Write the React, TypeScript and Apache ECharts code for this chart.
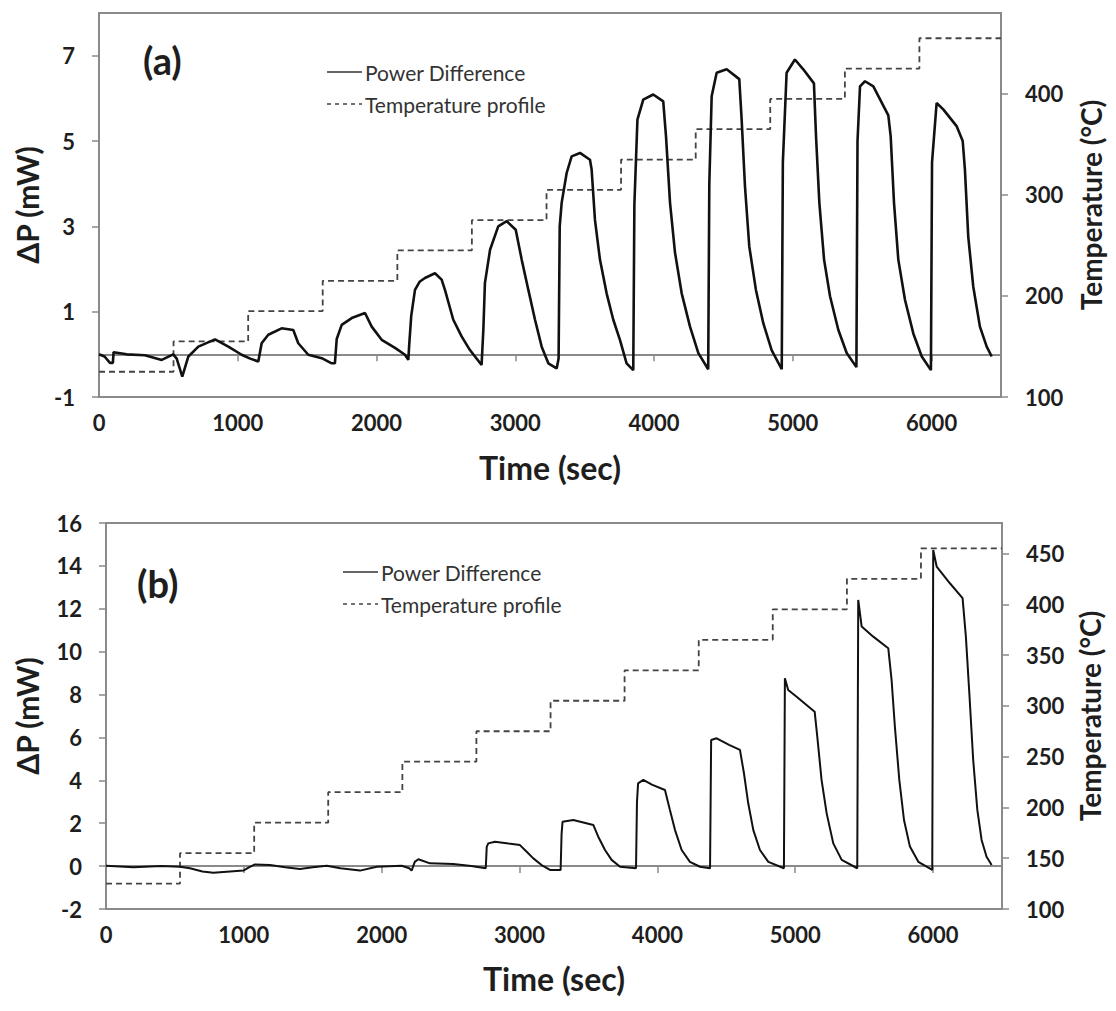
import React, { useEffect, useRef } from "react";
import * as echarts from "echarts";

// ---------- Data ----------
// Temperature profile (same schedule in both panels): step start times (s) and levels (°C)
const tempStepTimes = [0, 537, 1075, 1612, 2150, 2687, 3225, 3762, 4300, 4837, 5375, 5912];
const tempLevels = [125, 155, 185, 215, 245, 275, 305, 335, 365, 395, 425, 455];
const tempEndTime = 6500;

// Panel (a): power difference, [time (s), ΔP (mW)]
const powerCurveA: [number, number][] = [
  [0, 0.0], [40, -0.05], [79, -0.2], [100, -0.2], [105, 0.05], [200, 0.0], [331, -0.02], [452, -0.13],
  [535, 0.0], [560, -0.1], [600, -0.52], [644, -0.05], [716, 0.18], [836, 0.35], [932, 0.18], [1028, -0.01],
  [1090, -0.1], [1148, -0.17], [1172, 0.26], [1220, 0.46], [1316, 0.61], [1400, 0.57], [1436, 0.26],
  [1508, -0.01], [1605, -0.09], [1677, -0.21], [1700, -0.21], [1713, 0.36], [1749, 0.69], [1821, 0.85],
  [1917, 0.97], [1965, 0.65], [2037, 0.34], [2133, 0.15], [2205, -0.01], [2229, -0.13], [2235, 0.2],
  [2250, 0.9], [2277, 1.51], [2310, 1.7], [2349, 1.79], [2421, 1.9], [2469, 1.75], [2493, 1.51],
  [2553, 0.81], [2613, 0.42], [2673, 0.1], [2757, -0.25], [2770, 0.6], [2781, 1.67], [2818, 2.45],
  [2877, 3.0], [2938, 3.12], [3003, 2.92], [3046, 2.22], [3094, 1.51], [3142, 0.81], [3190, 0.18],
  [3238, -0.21], [3298, -0.33], [3312, -0.1], [3320, 3.0], [3334, 3.55], [3370, 4.25], [3406, 4.64],
  [3466, 4.72], [3538, 4.56], [3550, 4.33], [3574, 3.15], [3610, 2.22], [3658, 1.43], [3706, 0.81],
  [3754, 0.34], [3802, -0.21], [3850, -0.37], [3858, 3.5], [3880, 5.5], [3922, 5.97], [3994, 6.09],
  [4066, 5.93], [4086, 5.11], [4115, 3.55], [4151, 2.38], [4199, 1.43], [4259, 0.65], [4319, 0.03],
  [4390, -0.35], [4398, 4.0], [4415, 6.05], [4451, 6.6], [4523, 6.68], [4614, 6.45], [4631, 5.5],
  [4655, 3.94], [4686, 2.53], [4734, 1.51], [4787, 0.73], [4847, 0.1], [4920, -0.35], [4928, 4.5],
  [4955, 6.6], [5015, 6.91], [5075, 6.68], [5152, 6.35], [5167, 5.11], [5191, 3.55], [5225, 2.22],
  [5268, 1.36], [5328, 0.57], [5388, 0.03], [5458, -0.3], [5466, 5.0], [5484, 6.28], [5520, 6.4],
  [5580, 6.28], [5688, 5.6], [5705, 5.11], [5729, 3.55], [5760, 2.22], [5808, 1.28], [5868, 0.49],
  [5929, -0.05], [5995, -0.37], [6003, 4.5], [6036, 5.89], [6084, 5.74], [6180, 5.35], [6224, 5.0],
  [6240, 4.33], [6264, 2.76], [6300, 1.59], [6348, 0.65], [6397, 0.18], [6433, -0.05],
];

// Panel (b): power difference, [time (s), ΔP (mW)]
const powerCurveB: [number, number][] = [
  [0, 0.02], [200, -0.05], [400, 0.0], [537, -0.03], [609, -0.1], [700, -0.25], [778, -0.31], [900, -0.25],
  [996, -0.21], [1040, -0.05], [1081, 0.08], [1190, 0.05], [1300, -0.05], [1407, -0.13], [1500, -0.05],
  [1601, 0.02], [1700, -0.1], [1843, -0.21], [1964, -0.03], [2145, 0.02], [2200, -0.1], [2217, -0.21],
  [2240, 0.2], [2266, 0.32], [2350, 0.13], [2519, 0.1], [2650, 0.0], [2755, -0.1], [2762, 0.9],
  [2773, 1.06], [2822, 1.14], [2920, 1.05], [3003, 0.98], [3052, 0.67], [3100, 0.36], [3160, 0.05],
  [3221, -0.18], [3298, -0.18], [3305, 1.5], [3312, 2.07], [3390, 2.15], [3535, 1.92], [3571, 1.37],
  [3620, 0.75], [3668, 0.29], [3729, -0.03], [3845, -0.1], [3852, 3.0], [3860, 3.86], [3898, 4.02],
  [3960, 3.8], [4055, 3.55], [4091, 2.62], [4128, 1.68], [4176, 0.75], [4236, 0.2], [4309, -0.03],
  [4382, -0.1], [4390, 5.88], [4430, 5.96], [4520, 5.65], [4599, 5.42], [4628, 4.33], [4659, 2.93],
  [4696, 1.68], [4744, 0.75], [4805, 0.2], [4918, -0.1], [4925, 8.76], [4949, 8.21], [5010, 7.9],
  [5141, 7.2], [5160, 6.04], [5191, 4.02], [5228, 2.46], [5276, 1.06], [5337, 0.29], [5450, -0.1],
  [5457, 12.41], [5482, 11.17], [5566, 10.7], [5675, 10.16], [5699, 8.68], [5723, 6.5], [5755, 4.02],
  [5789, 2.15], [5832, 0.91], [5893, 0.2], [5994, -0.18], [6001, 14.74], [6026, 13.97], [6122, 13.19],
  [6214, 12.5], [6238, 10.7], [6263, 8.06], [6291, 4.95], [6321, 2.62], [6352, 1.22], [6388, 0.44],
  [6425, 0.05],
];

// Tick values
const xTicks = [0, 1000, 2000, 3000, 4000, 5000, 6000];
const leftTicksA = [-1, 1, 3, 5, 7];
const rightTicksA = [100, 200, 300, 400];
const leftTicksB = [-2, 0, 2, 4, 6, 8, 10, 12, 14, 16];
const rightTicksB = [100, 150, 200, 250, 300, 350, 400, 450];

const seriesNames = ["Power Difference", "Temperature profile"];

// ---------- Helpers ----------
const tempData = () => {
  const d = tempStepTimes.map((t, i) => [t, tempLevels[i]]);
  d.push([tempEndTime, tempLevels[tempLevels.length - 1]]);
  return d;
};

const FONT = "Lato";
const TEXT = "#1e1e1e";
const FRAME = "#8a8a8a";

const labelStyle = { fontFamily: FONT, fontWeight: "bold" as const, fontSize: 22, color: TEXT };
const nameStyle = { fontFamily: FONT, fontWeight: "bold" as const, fontSize: 30, color: TEXT };

function xAxis(gridIndex: number, nameGap: number) {
  return {
    type: "value",
    gridIndex,
    min: 0,
    max: 6500,
    name: "Time (sec)",
    nameLocation: "middle",
    nameGap,
    nameTextStyle: { ...nameStyle, fontSize: 32, verticalAlign: "top" },
    axisLine: { show: true, lineStyle: { color: FRAME, width: 2 } },
    axisTick: { show: true, length: 7, lineStyle: { color: FRAME, width: 1.5 }, customValues: xTicks },
    axisLabel: { ...labelStyle, margin: 14, customValues: xTicks, formatter: (v: number) => String(v) },
    splitLine: { show: false },
  };
}

function yAxis(
  gridIndex: number,
  position: "left" | "right",
  min: number,
  max: number,
  ticks: number[],
  name: string,
  nameGap: number,
  nameSize: number,
) {
  return {
    type: "value",
    gridIndex,
    position,
    min,
    max,
    name,
    nameLocation: "middle",
    nameGap,
    nameRotate: 90,
    nameTextStyle: { ...nameStyle, fontSize: nameSize },
    axisLine: { show: true, lineStyle: { color: FRAME, width: 2 } },
    axisTick: { show: true, length: 7, lineStyle: { color: FRAME, width: 1.5 }, customValues: ticks },
    axisLabel: { ...labelStyle, margin: 24, customValues: ticks, formatter: (v: number) => String(v) },
    splitLine: { show: false },
  };
}

function legendGraphics(x: number, y1: number, y2: number) {
  return [
    {
      type: "line",
      shape: { x1: x, y1, x2: x + 35, y2: y1 },
      style: { stroke: "#333", lineWidth: 1.5 },
    },
    {
      type: "text",
      x: x + 38,
      y: y1,
      style: { text: seriesNames[0], font: `21px ${FONT}`, fill: "#333", verticalAlign: "middle" },
    },
    {
      type: "line",
      shape: { x1: x, y1: y2, x2: x + 35, y2 },
      style: { stroke: "#444", lineWidth: 1.5, lineDash: [4, 4] },
    },
    {
      type: "text",
      x: x + 38,
      y: y2,
      style: { text: seriesNames[1], font: `21px ${FONT}`, fill: "#333", verticalAlign: "middle" },
    },
  ];
}

export default function App() {
  const ref = useRef<HTMLDivElement>(null);

  useEffect(() => {
    if (!ref.current) return;
    const chart = echarts.init(ref.current, null, { renderer: "svg" });

    const option = {
      animation: false,
      backgroundColor: "#ffffff",
      grid: [
        { left: 99, top: 13, width: 902, height: 384, show: true, borderColor: FRAME, borderWidth: 2 },
        { left: 106, top: 523, width: 896, height: 386, show: true, borderColor: FRAME, borderWidth: 2 },
      ],
      xAxis: [xAxis(0, 54), xAxis(1, 53)],
      yAxis: [
        yAxis(0, "left", -1, 8, leftTicksA, "ΔP (mW)", 57, 30),
        yAxis(0, "right", 100, 480, rightTicksA, "Temperature (°C)", 76, 28),
        yAxis(1, "left", -2, 16, leftTicksB, "ΔP (mW)", 64, 30),
        yAxis(1, "right", 100, 480, rightTicksB, "Temperature (°C)", 74, 28),
      ],
      series: [
        {
          name: seriesNames[0],
          type: "line",
          xAxisIndex: 0,
          yAxisIndex: 0,
          data: powerCurveA,
          symbol: "none",
          lineStyle: { color: "#111", width: 2.6 },
          z: 3,
        },
        {
          name: seriesNames[1],
          type: "line",
          xAxisIndex: 0,
          yAxisIndex: 1,
          step: "end",
          data: tempData(),
          symbol: "none",
          lineStyle: { color: "#444", width: 1.8, type: [6, 4] },
          z: 2,
        },
        {
          name: seriesNames[0],
          type: "line",
          xAxisIndex: 1,
          yAxisIndex: 2,
          data: powerCurveB,
          symbol: "none",
          lineStyle: { color: "#111", width: 2 },
          z: 3,
        },
        {
          name: seriesNames[1],
          type: "line",
          xAxisIndex: 1,
          yAxisIndex: 3,
          step: "end",
          data: tempData(),
          symbol: "none",
          lineStyle: { color: "#444", width: 1.8, type: [6, 4] },
          z: 2,
        },
      ],
      graphic: [
        {
          type: "text",
          x: 143,
          y: 60,
          style: { text: "(a)", font: `bold 38px ${FONT}`, fill: TEXT, verticalAlign: "middle" },
        },
        {
          type: "text",
          x: 137,
          y: 583,
          style: { text: "(b)", font: `bold 38px ${FONT}`, fill: TEXT, verticalAlign: "middle" },
        },
        ...legendGraphics(327, 72, 104),
        ...legendGraphics(343, 572, 604),
      ],
    };

    chart.setOption(option as any);
    return () => chart.dispose();
  }, []);

  return (
    <div
      ref={ref}
      style={{ position: "absolute", left: 0, top: 0, width: 1116, height: 1011, background: "#fff" }}
    />
  );
}
